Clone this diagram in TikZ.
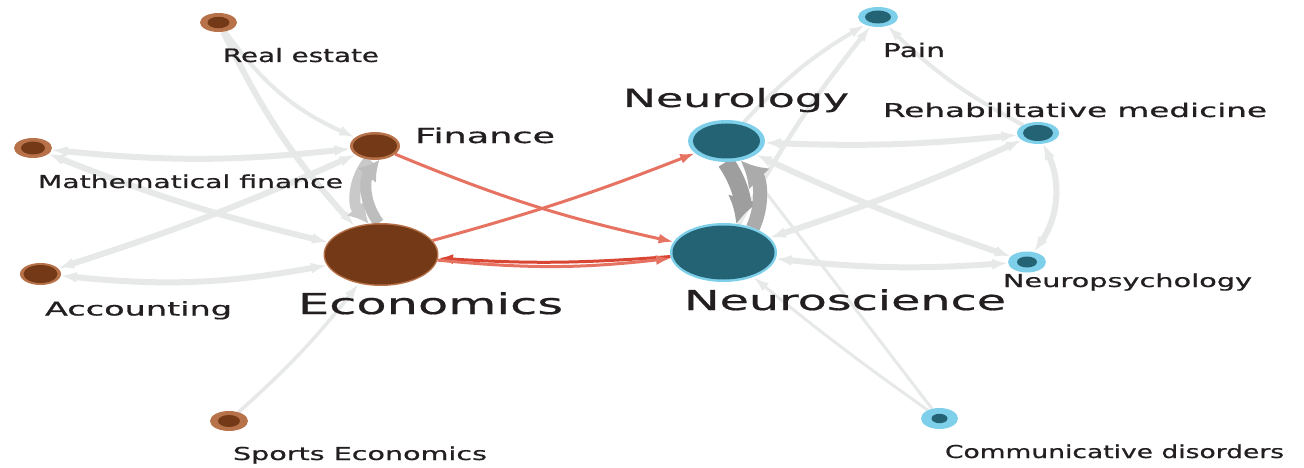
\documentclass[tikz,border=0pt]{standalone}
\usepackage{fontspec}
\setmainfont{DejaVu Sans}[FakeBold=0.6]
\usepackage{graphicx}
\usetikzlibrary{arrows.meta,shapes.geometric}
\pgfdeclarelayer{bg}
\pgfsetlayers{bg,main}
\definecolor{bring}{HTML}{B8724A}
\definecolor{bcore}{HTML}{743A17}
\definecolor{tring}{HTML}{7ECFEA}
\definecolor{tcore}{HTML}{246374}
\definecolor{eg}{HTML}{E7E8E8}
\definecolor{gA}{HTML}{C9C9C9}
\definecolor{gB}{HTML}{BDBDBD}
\definecolor{gC}{HTML}{9E9E9E}
\definecolor{gD}{HTML}{ABABAB}
\definecolor{redA}{HTML}{E67262}
\definecolor{redB}{HTML}{DA4634}
\definecolor{txt}{HTML}{231F20}
\newcommand\lab[3]{\resizebox{#2pt}{\height}{\fontsize{#1pt}{#1pt}\selectfont #3}}
\begin{document}
\begin{tikzpicture}[x=1pt,y=1pt,
 nd/.style={ellipse, inner sep=0pt, outer sep=0pt},
 lbl/.style={anchor=base west, inner sep=0pt, outer sep=0pt, text=txt},
 ge/.style={draw=eg, line width=4.5pt, -{Latex[length=16pt,width=10pt]}},
 geb/.style={draw=eg, line width=6pt, {Latex[length=16pt,width=11pt]}-{Latex[length=16pt,width=11pt]}},
 redge/.style={draw=redA, line width=3pt, -{Latex[length=15pt,width=10pt]}},
 band/.style={line width=11pt, -{Latex[length=20pt,width=24pt]}},
]
\useasboundingbox (0,0) rectangle (1304,-468);

% nodes
\node[nd, fill=bring, minimum width=115pt, minimum height=63pt] (eco) at (381,-254.5) {};
\fill[bcore] (eco.center) ellipse[x radius=56, y radius=30];
\node[nd, fill=bring, minimum width=50pt, minimum height=28pt] (fin) at (375,-146) {};
\fill[bcore] (fin.center) ellipse[x radius=22, y radius=11.5];
\node[nd, fill=bring, minimum width=37pt, minimum height=19pt] (rest) at (218.5,-22.5) {};
\fill[bcore] (rest.center) ellipse[x radius=11, y radius=5.7];
\node[nd, fill=bring, minimum width=38pt, minimum height=20pt] (mf) at (33,-148) {};
\fill[bcore] (mf.center) ellipse[x radius=12, y radius=6.5];
\node[nd, fill=bring, minimum width=41pt, minimum height=22pt] (acc) at (40.5,-274) {};
\fill[bcore] (acc.center) ellipse[x radius=17, y radius=9];
\node[nd, fill=bring, minimum width=38pt, minimum height=20pt] (se) at (229,-421) {};
\fill[bcore] (se.center) ellipse[x radius=11, y radius=6];

\node[nd, fill=tring, minimum width=77pt, minimum height=42pt] (neurol) at (726.5,-141) {};
\fill[tcore] (neurol.center) ellipse[x radius=33.5, y radius=17.5];
\node[nd, fill=tring, minimum width=107pt, minimum height=59pt] (neusci) at (723.5,-252.5) {};
\fill[tcore] (neusci.center) ellipse[x radius=51, y radius=27];
\node[nd, fill=tring, minimum width=40pt, minimum height=20pt] (pain) at (878,-17) {};
\fill[tcore] (pain.center) ellipse[x radius=13, y radius=6.5];
\node[nd, fill=tring, minimum width=42pt, minimum height=22pt] (rehab) at (1038,-133) {};
\fill[tcore] (rehab.center) ellipse[x radius=15, y radius=8];
\node[nd, fill=tring, minimum width=38pt, minimum height=21pt] (npsy) at (1027,-262) {};
\fill[tcore] (npsy.center) ellipse[x radius=10, y radius=5.5];
\node[nd, fill=tring, minimum width=37pt, minimum height=21pt] (comm) at (939.5,-418.5) {};
\fill[tcore] (comm.center) ellipse[x radius=8, y radius=4.7];

% labels
\node[lbl] (lrest) at (223,-62) {\lab{18.5}{156}{Real estate}};
\node[lbl] (lfin) at (415,-143) {\lab{20.6}{140}{Finance}};
\node[lbl] (lmf) at (38,-188) {\lab{17.8}{305}{Mathematical finance}};
\node[lbl] (lacc) at (45,-315.5) {\lab{19}{187}{Accounting}};
\node[lbl] (leco) at (298,-314) {\lab{28.8}{265}{Economics}};
\node[lbl] (lse) at (233,-460) {\lab{17.8}{254}{Sports Economics}};
\node[lbl] (lneurol) at (623,-107) {\lab{25}{226}{Neurology}};
\node[lbl] (lpain) at (883,-57) {\lab{19}{62}{Pain}};
\node[lbl] (lrehab) at (883,-117) {\lab{19}{384}{Rehabilitative medicine}};
\node[lbl] (lnpsy) at (1003,-287) {\lab{17.8}{249}{Neuropsychology}};
\node[lbl] (lneusci) at (684,-310) {\lab{27.4}{322}{Neuroscience}};
\node[lbl] (lcomm) at (945,-458) {\lab{17.8}{339}{Communicative disorders}};

\begin{pgfonlayer}{bg}
\fill[white] (0,0) rectangle (1304,-468);
% left cluster
\draw[ge, line width=6pt] (rest) to[bend right=8] (eco);
\draw[ge, line width=4pt] (rest) to[bend right=15] (fin);
\draw[geb] (fin) to[bend left=6] (mf);
\draw[geb] (mf) to[bend right=4] (eco);
\draw[geb] (fin) to[bend left=3] (acc);
\draw[geb] (acc) to[bend right=8] (eco);
\draw[ge, line width=3.5pt] (se) to[bend right=5] (eco);
\draw[band, draw=gA] (fin.248) to[bend right=40] (eco.112);
\draw[band, draw=gB] (eco.94) to[bend left=38] (fin.288);
% red
\draw[redge] (fin) to[bend right=5] (neusci);
\draw[redge] (eco) to[bend right=3] (neurol);
\draw[redge, draw=redB] (neusci) to[bend left=4] (eco);
\draw[redge] (eco) to[bend right=6] (neusci);
% right cluster
\draw[ge, line width=4pt] (neurol) to[bend left=8] (pain);
\draw[ge] (neusci) to[bend left=5] (pain);
\draw[ge, line width=4pt] (rehab) to[bend left=8] (pain);
\draw[geb] (neurol) to[bend right=4] (rehab);
\draw[geb] (neusci) to[bend right=3] (rehab);
\draw[geb] (neurol) to[bend right=3] (npsy);
\draw[geb] (rehab) to[bend left=30] (npsy);
\draw[geb] (neusci) to[bend right=5] (npsy);
\draw[ge, line width=3pt] (comm) to[bend left=2] (neusci);
\draw[ge, line width=3pt] (comm) to (neurol);
\draw[band, draw=gC, line width=17pt, -{Latex[length=26pt,width=32pt]}] (neurol.268) to[bend left=25] (neusci.66);
\draw[band, draw=gD, line width=14pt, -{Latex[length=26pt,width=30pt]}] (neusci.40) to[bend right=35] (neurol.306);
\end{pgfonlayer}
\end{tikzpicture}
\end{document}
